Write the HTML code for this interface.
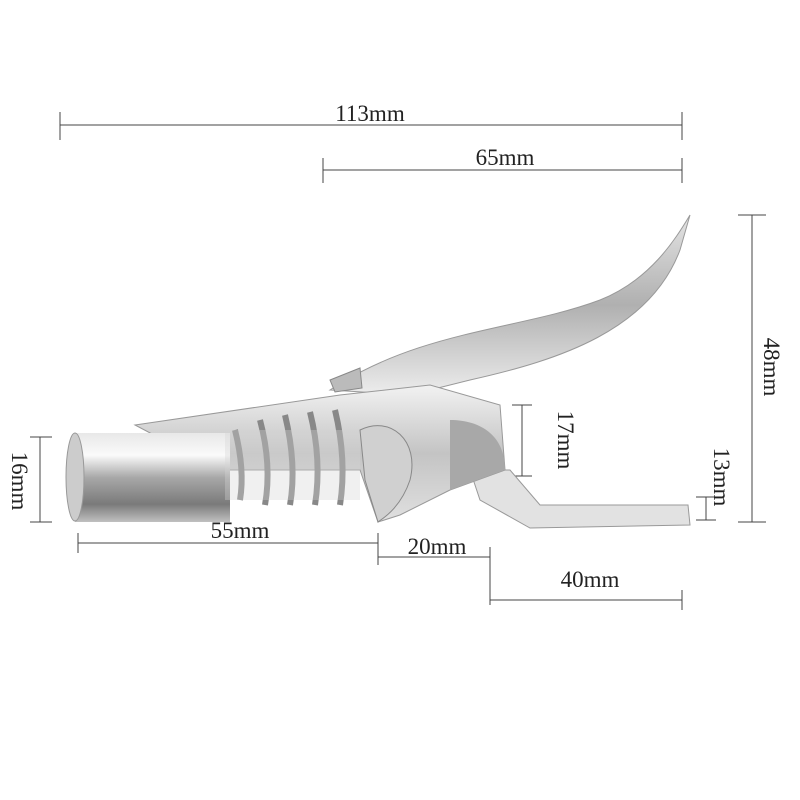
<!DOCTYPE html>
<html><head><style>
html,body{margin:0;padding:0;background:#fff;}
svg{display:block}
text{font-family:"Liberation Serif",serif;font-size:23px;fill:#222}
</style></head><body>
<svg width="800" height="800" viewBox="0 0 800 800">
<defs>
<linearGradient id="cyl" x1="0" y1="0" x2="0" y2="1">
<stop offset="0" stop-color="#e8e8e8"/><stop offset="0.25" stop-color="#fafafa"/><stop offset="0.5" stop-color="#a8a8a8"/><stop offset="0.8" stop-color="#7a7a7a"/><stop offset="1" stop-color="#c0c0c0"/>
</linearGradient>
<linearGradient id="lev" x1="0" y1="0" x2="0" y2="1">
<stop offset="0" stop-color="#e4e4e4"/><stop offset="0.5" stop-color="#b0b0b0"/><stop offset="1" stop-color="#ededed"/>
</linearGradient>
<linearGradient id="body" x1="0" y1="0" x2="0" y2="1">
<stop offset="0" stop-color="#f2f2f2"/><stop offset="0.5" stop-color="#c4c4c4"/><stop offset="1" stop-color="#e0e0e0"/>
</linearGradient>
</defs>
<g stroke="#444" stroke-width="1" fill="none">
<line x1="60" y1="125" x2="682" y2="125"/><line x1="60" y1="112" x2="60" y2="140"/><line x1="682" y1="112" x2="682" y2="140"/>
<line x1="323" y1="170" x2="682" y2="170"/><line x1="323" y1="158" x2="323" y2="183"/><line x1="682" y1="158" x2="682" y2="183"/>
<line x1="752" y1="215" x2="752" y2="522"/><line x1="738" y1="215" x2="766" y2="215"/><line x1="738" y1="522" x2="766" y2="522"/>
<line x1="522" y1="405" x2="522" y2="476"/><line x1="512" y1="405" x2="532" y2="405"/><line x1="512" y1="476" x2="532" y2="476"/>
<line x1="706" y1="497" x2="706" y2="520"/><line x1="696" y1="497" x2="716" y2="497"/><line x1="696" y1="520" x2="716" y2="520"/>
<line x1="40" y1="437" x2="40" y2="522"/><line x1="30" y1="437" x2="52" y2="437"/><line x1="30" y1="522" x2="52" y2="522"/>
<line x1="78" y1="543" x2="378" y2="543"/><line x1="78" y1="533" x2="78" y2="553"/><line x1="378" y1="533" x2="378" y2="565"/>
<line x1="378" y1="557" x2="490" y2="557"/><line x1="490" y1="547" x2="490" y2="605"/>
<line x1="490" y1="600" x2="682" y2="600"/><line x1="682" y1="590" x2="682" y2="610"/>
</g>
<text x="370" y="121" text-anchor="middle">113mm</text>
<text x="505" y="165" text-anchor="middle">65mm</text>
<text x="240" y="538" text-anchor="middle">55mm</text>
<text x="437" y="554" text-anchor="middle">20mm</text>
<text x="590" y="587" text-anchor="middle">40mm</text>
<text transform="translate(764,367) rotate(90)" text-anchor="middle">48mm</text>
<text transform="translate(558,440) rotate(90)" text-anchor="middle">17mm</text>
<text transform="translate(714,477) rotate(90)" text-anchor="middle">13mm</text>
<text transform="translate(12,481) rotate(90)" text-anchor="middle">16mm</text>
<!-- bottom plate -->
<path d="M470 470 L510 470 L540 505 L688 505 L690 525 L530 528 L480 500 Z" fill="#e2e2e2" stroke="#999"/>
<!-- lever -->
<path d="M330 390 C420 330 520 330 600 300 C650 280 675 240 690 215 L680 250 C650 330 560 360 470 380 L410 395 Z" fill="url(#lev)" stroke="#999"/>
<!-- body -->
<path d="M135 425 L340 395 L430 385 L500 405 L505 470 L450 490 L400 515 L378 522 L360 470 L220 470 Z" fill="url(#body)" stroke="#999"/>
<path d="M450 420 C480 420 505 435 505 470 L450 490 Z" fill="#a8a8a8"/>
<path d="M330 380 L360 368 L362 388 L335 392 Z" fill="#bbb" stroke="#888"/>
<!-- cylinder -->
<path d="M75 433 L230 433 L230 522 L75 522 Z" fill="url(#cyl)"/>
<ellipse cx="75" cy="477" rx="9" ry="44" fill="#ccc" stroke="#999"/>
<!-- spring -->
<g stroke="#888" stroke-width="6" fill="none">
<path d="M235 430 Q245 470 240 500"/><path d="M260 420 Q272 465 265 505"/><path d="M285 415 Q297 465 290 505"/><path d="M310 412 Q322 460 315 505"/><path d="M335 410 Q347 460 340 505"/>
</g>
<rect x="225" y="430" width="135" height="70" fill="#d4d4d4" opacity="0.35"/>
<path d="M360 430 C390 415 420 440 410 480 C400 510 380 520 378 522 L365 480 Z" fill="#d0d0d0" stroke="#888"/>
</svg>
</body></html>
